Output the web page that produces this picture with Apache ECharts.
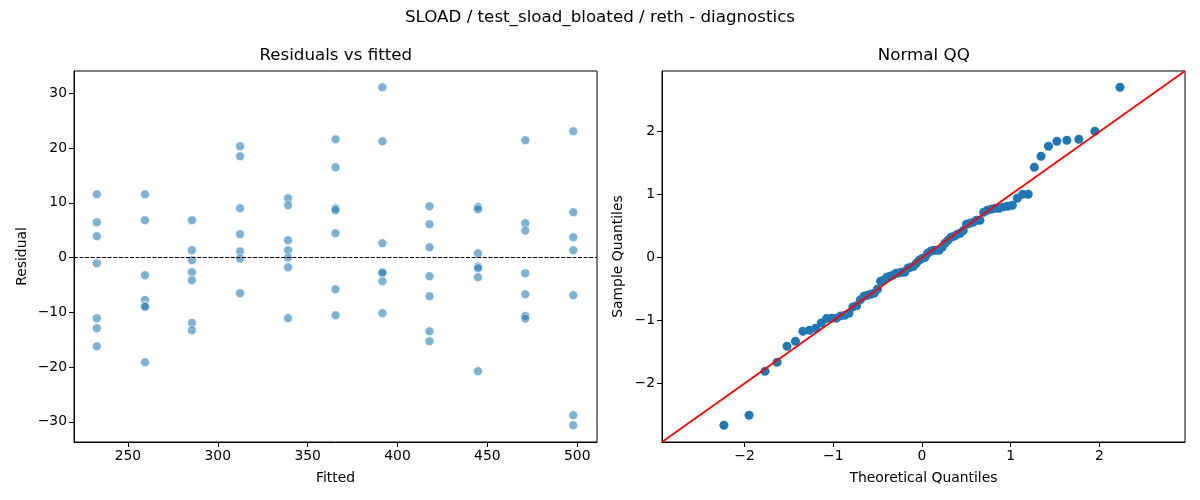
<!DOCTYPE html>
<html>
<head>
    <meta charset="utf-8">
    <title>SLOAD diagnostics</title>
    <script src="https://cdn.jsdelivr.net/npm/echarts@6/dist/echarts.min.js"></script>
    <style>
        html, body { margin: 0; padding: 0; background: #fff; }
        #chart { width: 1200px; height: 500px; }
    </style>
</head>
<body>
<div id="chart"></div>
<script>
    // fitted value of each group (x positions of the residual columns)
    var fittedLevels = [232.7, 259.5, 285.6, 312.4, 339.1, 365.5, 391.6, 417.8, 444.8, 471.1, 497.8];
    // residuals read per group, same order as fittedLevels
    var residualsByLevel = [
        [11.57, 6.46, 3.90, -1.04, -11.08, -12.91, -16.2],
        [11.57, 6.82, -3.23, -7.73, -8.8, -9.0, -19.12],
        [6.82, 1.34, -0.49, -2.68, -4.14, -11.94, -13.28],
        [20.34, 18.51, 9.01, 4.26, 1.16, -0.18, -6.52],
        [10.84, 9.56, 3.17, 1.34, 0.0, -1.77, -11.08],
        [21.62, 16.5, 9.0, 8.65, 4.45, -5.79, -10.54],
        [31.12, 21.25, 2.62, -2.68, -2.8, -4.32, -10.17],
        [9.38, 6.09, 1.89, -3.41, -7.06, -13.46, -15.29],
        [9.26, 8.83, 0.79, -1.64, -1.95, -3.59, -20.77],
        [21.44, 6.27, 4.93, -2.86, -6.70, -10.66, -11.14],
        [23.08, 8.28, 3.71, 1.34, -6.88, -28.81, -30.63]
    ];
    var fittedTicks = [250, 300, 350, 400, 450, 500];
    var residualTicks = [-30, -20, -10, 0, 10, 20, 30];

    // normal QQ: theoretical quantiles and sorted standardized residuals
    var qqTheoretical = [
        -2.232, -1.949, -1.769, -1.633, -1.521, -1.426, -1.342, -1.267, -1.198, -1.135,
        -1.076, -1.020, -0.967, -0.917, -0.869, -0.823, -0.779, -0.736, -0.695, -0.654,
        -0.615, -0.577, -0.539, -0.502, -0.466, -0.431, -0.396, -0.361, -0.327, -0.293,
        -0.260, -0.227, -0.194, -0.161, -0.129, -0.097, -0.064, -0.032, 0.000,
        0.032, 0.064, 0.097, 0.129, 0.161, 0.194, 0.227, 0.260, 0.293, 0.327,
        0.361, 0.396, 0.431, 0.466, 0.502, 0.539, 0.577, 0.615, 0.654, 0.695,
        0.736, 0.779, 0.823, 0.869, 0.917, 0.967, 1.020, 1.076, 1.135, 1.198,
        1.267, 1.342, 1.426, 1.521, 1.633, 1.769, 1.949, 2.232
    ];
    var qqSample = [
        -2.663, -2.505, -1.806, -1.663, -1.409, -1.330, -1.170, -1.155, -1.123, -1.038,
        -0.969, -0.963, -0.963, -0.927, -0.917, -0.884, -0.783, -0.765, -0.672, -0.614,
        -0.598, -0.583, -0.567, -0.503, -0.376, -0.360, -0.312, -0.297, -0.281, -0.249,
        -0.243, -0.233, -0.233, -0.170, -0.154, -0.143, -0.090, -0.043, -0.016,
        0.000, 0.069, 0.101, 0.117, 0.117, 0.117, 0.164, 0.228, 0.276, 0.323,
        0.339, 0.370, 0.387, 0.429, 0.530, 0.545, 0.562, 0.593, 0.593, 0.720,
        0.752, 0.768, 0.783, 0.783, 0.805, 0.816, 0.831, 0.943, 1.006, 1.006,
        1.435, 1.610, 1.769, 1.848, 1.864, 1.880, 2.007, 2.706
    ];
    var qqTicksX = [-2, -1, 0, 1, 2];
    var qqTicksY = [-2, -1, 0, 1, 2];
    var qqLimits = [-2.93, 2.965];

    var FONT = 'DejaVu Sans';

    var residPoints = [];
    fittedLevels.forEach(function (f, i) {
        residualsByLevel[i].forEach(function (r) {
            residPoints.push([f, r]);
        });
    });
    var qqPoints = qqTheoretical.map(function (t, i) {
        return [t, qqSample[i]];
    });

    function minus(v) {
        return String(v).replace('-', '\u2212');
    }

    function axis(opt) {
        var base = {
            type: 'value',
            nameLocation: 'middle',
            nameTextStyle: {color: '#000', fontFamily: FONT, fontSize: 13.9},
            splitLine: {show: false},
            axisLine: {show: true, onZero: false, lineStyle: {color: '#000', width: 1}},
            axisTick: {show: true, inside: false, length: 5, lineStyle: {color: '#000'},
                customValues: opt.ticks},
            axisLabel: {color: '#000', fontFamily: FONT, fontSize: 13.9, margin: 7,
                customValues: opt.ticks, formatter: minus}
        };
        for (var k in opt) {
            if (k !== 'ticks') base[k] = opt[k];
        }
        return base;
    }

    var chart = echarts.init(document.getElementById('chart'), null, {renderer: 'canvas'});

    var option = {
        backgroundColor: '#fff',
        animation: false,
        graphic: [
            {type: 'text', x: 600, y: 18, style: {text: 'SLOAD / test_sload_bloated / reth - diagnostics',
                    fontFamily: FONT, fontSize: 16.7, fill: '#000', align: 'center', verticalAlign: 'middle'}},
            {type: 'text', x: 335.8, y: 56, style: {text: 'Residuals vs fitted',
                    fontFamily: FONT, fontSize: 16.7, fill: '#000', align: 'center', verticalAlign: 'middle'}},
            {type: 'text', x: 923.8, y: 56, style: {text: 'Normal QQ',
                    fontFamily: FONT, fontSize: 16.7, fill: '#000', align: 'center', verticalAlign: 'middle'}}
        ],
        grid: [
            {left: 74, top: 71, width: 523, height: 371, show: true, borderColor: '#000', borderWidth: 1,
                backgroundColor: 'transparent', containLabel: false},
            {left: 662, top: 71, width: 523, height: 371, show: true, borderColor: '#000', borderWidth: 1,
                backgroundColor: 'transparent', containLabel: false}
        ],
        xAxis: [
            axis({gridIndex: 0, min: 220, max: 511, name: 'Fitted', nameGap: 29, ticks: fittedTicks}),
            axis({gridIndex: 1, min: qqLimits[0], max: qqLimits[1], name: 'Theoretical Quantiles', nameGap: 29, ticks: qqTicksX})
        ],
        yAxis: [
            axis({gridIndex: 0, min: -33.7, max: 34.1, name: 'Residual', nameGap: 45, ticks: residualTicks}),
            axis({gridIndex: 1, min: qqLimits[0], max: qqLimits[1], name: 'Sample Quantiles', nameGap: 37, ticks: qqTicksY})
        ],
        series: [
            {
                type: 'scatter',
                xAxisIndex: 0, yAxisIndex: 0,
                data: residPoints,
                symbolSize: 9,
                itemStyle: {color: 'rgba(31,119,180,0.72)', borderColor: '#fff', borderWidth: 0.8},
                markLine: {
                    silent: true,
                    symbol: 'none',
                    label: {show: false},
                    lineStyle: {color: '#000', type: [4, 1.6], width: 1},
                    data: [{yAxis: 0}]
                }
            },
            {
                type: 'line',
                xAxisIndex: 1, yAxisIndex: 1,
                data: [[qqLimits[0], qqLimits[0]], [qqLimits[1], qqLimits[1]]],
                showSymbol: false,
                symbol: 'none',
                lineStyle: {color: '#ff0000', width: 1.8},
                z: 3
            },
            {
                type: 'scatter',
                xAxisIndex: 1, yAxisIndex: 1,
                data: qqPoints,
                symbolSize: 9,
                itemStyle: {color: '#1f77b4', opacity: 1},
                z: 2
            }
        ]
    };

    chart.setOption(option);
</script>
</body>
</html>
